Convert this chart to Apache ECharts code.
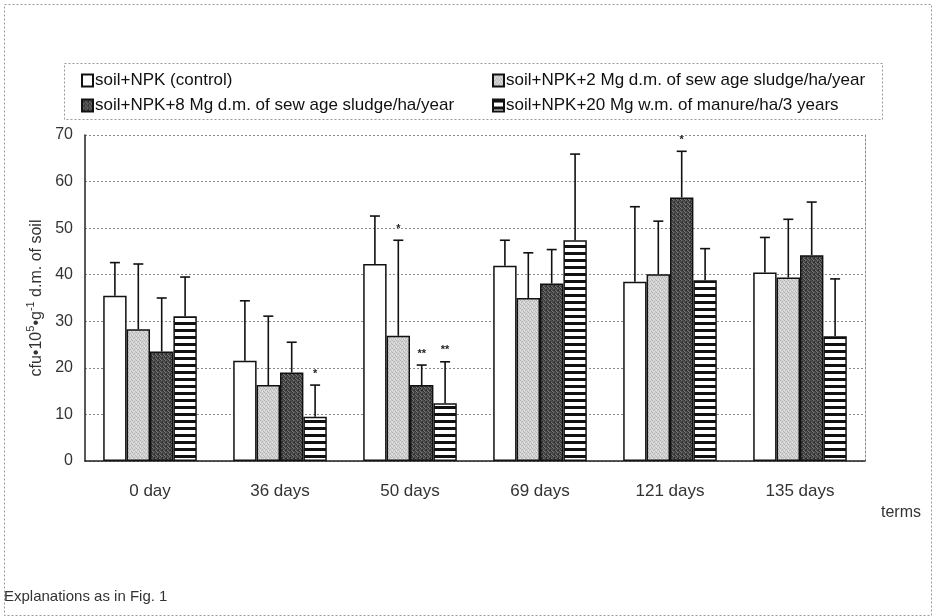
<!DOCTYPE html>
<html>
<head>
<meta charset="utf-8">
<script src="https://cdn.jsdelivr.net/npm/echarts@6/dist/echarts.min.js"></script>
<style>
  html, body { margin: 0; padding: 0; background: #fff; }
  #chart { width: 932px; height: 616px; }
</style>
</head>
<body>
<div id="chart"></div>
<script>
// Sampling terms
const categories = ['0 day', '36 days', '50 days', '69 days', '121 days', '135 days'];

// Series names
const seriesNames = [
  'soil+NPK (control)',
  'soil+NPK+2 Mg d.m. of sew age sludge/ha/year',
  'soil+NPK+8 Mg d.m. of sew age sludge/ha/year',
  'soil+NPK+20 Mg w.m. of manure/ha/3 years'
];

// Mean counts (cfu·10^5·g^-1 d.m. of soil)
const control  = [35.5, 21.5, 42.3, 41.9, 38.5, 40.5];
const sludge2  = [28.3, 16.3, 26.9, 35.0, 40.1, 39.4];
const sludge8  = [23.5, 19.0, 16.3, 38.1, 56.6, 44.2];
const manure20 = [31.1,  9.5, 12.4, 47.4, 38.8, 26.8];

// Standard deviations
const controlSd  = [7.1, 12.9, 10.3,  5.5, 16.1,  7.5];
const sludge2Sd  = [14.0, 14.8, 20.5, 9.7, 11.4, 12.5];
const sludge8Sd  = [11.5,  6.5,  4.3, 7.3,  9.9, 11.4];
const manure20Sd = [ 8.4,  6.8,  8.9, 18.5, 6.8, 12.3];

// Significance marks
const controlSig  = ['', '', '', '', '', ''];
const sludge2Sig  = ['', '', '*', '', '', ''];
const sludge8Sig  = ['', '', '**', '', '*', ''];
const manure20Sig = ['', '*', '**', '', '', ''];

// Y axis ticks
const yMin = 0, yMax = 70, yStep = 10;

const FONT = '"Liberation Sans", Arial, sans-serif';

// Fill patterns
function makeTile(w, h, draw) {
  const c = document.createElement('canvas');
  c.width = w; c.height = h;
  draw(c.getContext('2d'));
  return c;
}
const lightTile = makeTile(4, 4, ctx => {
  ctx.fillStyle = '#d2d2d2'; ctx.fillRect(0, 0, 4, 4);
  ctx.fillStyle = '#b4b4b4';
  [[0,0],[2,1],[1,2],[3,3]].forEach(p => ctx.fillRect(p[0], p[1], 1, 1));
  ctx.fillStyle = '#e4e4e4';
  [[2,3],[0,2]].forEach(p => ctx.fillRect(p[0], p[1], 1, 1));
});
const darkTile = makeTile(4, 4, ctx => {
  ctx.fillStyle = '#505050'; ctx.fillRect(0, 0, 4, 4);
  ctx.fillStyle = '#2e2e2e';
  [[0,0],[2,1],[1,2],[3,3],[2,2]].forEach(p => ctx.fillRect(p[0], p[1], 1, 1));
  ctx.fillStyle = '#777';
  [[1,0],[3,2],[0,3]].forEach(p => ctx.fillRect(p[0], p[1], 1, 1));
});
const stripeTile = makeTile(8, 7, ctx => {
  ctx.fillStyle = '#fff'; ctx.fillRect(0, 0, 8, 7);
  ctx.fillStyle = '#111'; ctx.fillRect(0, 0, 8, 3);
});

const fills = [
  '#ffffff',
  { image: lightTile, repeat: 'repeat' },
  { image: darkTile, repeat: 'repeat' },
  { image: stripeTile, repeat: 'repeat' }
];
const means = [control, sludge2, sludge8, manure20];
const sds = [controlSd, sludge2Sd, sludge8Sd, manure20Sd];
const sigs = [controlSig, sludge2Sig, sludge8Sig, manure20Sig];

const CAT_GAP = 0.28;

const barSeries = means.map((vals, k) => ({
  name: seriesNames[k],
  type: 'bar',
  data: vals,
  barGap: '0%',
  barCategoryGap: (CAT_GAP * 100) + '%',
  itemStyle: { color: fills[k], borderColor: '#111', borderWidth: 1.5 },
  emphasis: { disabled: true },
  z: 2
}));

// Error bars (upper whisker with cap) and significance stars
const errSeries = means.map((vals, k) => ({
  type: 'custom',
  name: seriesNames[k] + ' sd',
  data: vals.map((v, i) => [i, v, sds[k][i]]),
  z: 5,
  silent: true,
  renderItem: function (params, api) {
    const i = api.value(0);
    const mean = api.value(1);
    const sd = api.value(2);
    const sig = sigs[k][i];
    const band = api.size([1, 0])[0];
    const barW = band * (1 - CAT_GAP) / 4;
    const base = api.coord([i, mean]);
    const top = api.coord([i, mean + sd]);
    const x = base[0] + (k - 1.5) * barW;
    const capHalf = 5;
    const style = { stroke: '#111', lineWidth: 1.6 };
    const children = [
      { type: 'line', shape: { x1: x, y1: base[1], x2: x, y2: top[1] }, style: style },
      { type: 'line', shape: { x1: x - capHalf, y1: top[1], x2: x + capHalf, y2: top[1] }, style: style }
    ];
    if (sig) {
      children.push({
        type: 'text',
        style: {
          text: sig, x: x, y: top[1] - 6,
          textAlign: 'center', textVerticalAlign: 'bottom',
          font: 'bold 11px ' + FONT, fill: '#222'
        }
      });
    }
    return { type: 'group', children: children };
  }
}));

const chart = echarts.init(document.getElementById('chart'), null, { renderer: 'canvas' });

const legendText = { fontFamily: FONT, fontSize: 17, color: '#111', padding: [0, 0, 0, -3] };

chart.setOption({
  backgroundColor: '#fff',
  animation: false,
  textStyle: { fontFamily: FONT },
  grid: { left: 85, right: 67, top: 135, bottom: 155, containLabel: false },
  legend: [
    {
      data: [seriesNames[0], seriesNames[2]],
      orient: 'vertical', left: 76, top: 67, itemGap: 8,
      itemWidth: 11, itemHeight: 12, icon: 'rect',
      textStyle: legendText,
      selectedMode: false
    },
    {
      data: [seriesNames[1], seriesNames[3]],
      orient: 'vertical', left: 487, top: 67, itemGap: 8,
      itemWidth: 11, itemHeight: 12, icon: 'rect',
      textStyle: legendText,
      selectedMode: false
    }
  ],
  xAxis: {
    type: 'category',
    data: categories,
    axisLine: { show: true, lineStyle: { color: '#222', width: 1.5 } },
    axisTick: { show: false },
    axisLabel: { fontFamily: FONT, fontSize: 17, color: '#333', margin: 22 }
  },
  yAxis: [
    {
      type: 'value',
      min: yMin, max: yMax, interval: yStep,
      name: '{a|cfu•10}{s|5}{a|•g}{s|-1}{a| d.m. of soil}',
      nameLocation: 'middle', nameRotate: 90, nameGap: 40,
      nameTextStyle: {
        rich: {
          a: { fontFamily: FONT, fontSize: 16, color: '#333', lineHeight: 19, verticalAlign: 'bottom' },
          s: { fontFamily: FONT, fontSize: 11, color: '#333', lineHeight: 19, verticalAlign: 'top' }
        }
      },
      axisLine: { show: true, lineStyle: { color: '#222', width: 1.5 } },
      axisTick: { show: false },
      axisLabel: { fontFamily: FONT, fontSize: 16, color: '#333', margin: 12 },
      splitLine: { show: true, lineStyle: { color: '#888', type: [2, 2], width: 1 } }
    },
    {
      type: 'value',
      position: 'right',
      min: yMin, max: yMax, interval: yStep,
      axisLine: { show: true, lineStyle: { color: '#888', type: [2, 2], width: 1 } },
      axisTick: { show: false },
      axisLabel: { show: false },
      splitLine: { show: false }
    }
  ],
  graphic: [
    {
      type: 'rect', left: 2, top: 2, silent: true,
      shape: { width: 927, height: 611 },
      style: { fill: 'none', stroke: '#999', lineWidth: 1, lineDash: [2, 2] }
    },
    {
      type: 'rect', left: 62, top: 61, silent: true,
      shape: { width: 818, height: 56 },
      style: { fill: 'none', stroke: '#999', lineWidth: 1, lineDash: [2, 2] }
    },
    {
      type: 'text', left: 881, top: 505, silent: true,
      style: { text: 'terms', font: '16px ' + FONT, fill: '#333' }
    },
    {
      type: 'text', left: 4, top: 589, silent: true,
      style: { text: 'Explanations as in Fig. 1', font: '15px ' + FONT, fill: '#333' }
    }
  ],
  series: barSeries.concat(errSeries)
});
</script>
</body>
</html>
